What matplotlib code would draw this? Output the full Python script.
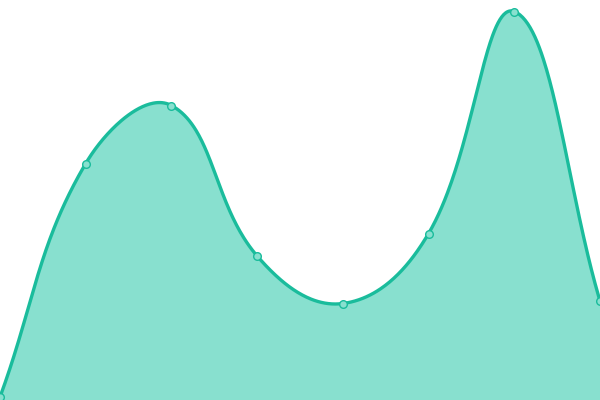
import numpy as np
import matplotlib
matplotlib.use("Agg")
import matplotlib.pyplot as plt

# data (index positions and values; chart height 400 units)
x_vals = [0, 1, 2, 3, 4, 5, 6, 7]
y_vals = [3, 236.5, 294.5, 144, 96.5, 166.5, 388.5, 99]

line_color = "#1abc9c"
fill_color = "#88e0cf"


def spline_curve(P, tension=0.4, n=80, lo=None, hi=None):
    # tension-based spline (distance-weighted control points) in display space
    P = np.asarray(P, float)
    m = len(P)
    cin, cout = [], []
    for i in range(m):
        prev = P[i - 1] if i > 0 else P[i]
        nxt = P[i + 1] if i < m - 1 else P[i]
        cur = P[i]
        d01 = np.linalg.norm(cur - prev)
        d12 = np.linalg.norm(nxt - cur)
        tot = d01 + d12
        s01 = d01 / tot if tot > 0 else 0
        s12 = d12 / tot if tot > 0 else 0
        a = cur - tension * s01 * (nxt - prev)
        b = cur + tension * s12 * (nxt - prev)
        if lo is not None:
            a = np.clip(a, lo, hi)
            b = np.clip(b, lo, hi)
        cin.append(a)
        cout.append(b)
    out = [P[:1]]
    t = np.linspace(0, 1, n)[1:, None]
    for i in range(m - 1):
        p1, p2 = P[i], P[i + 1]
        c1, c2 = cout[i], cin[i + 1]
        seg = ((1 - t) ** 3) * p1 + 3 * ((1 - t) ** 2) * t * c1 + 3 * (1 - t) * t ** 2 * c2 + t ** 3 * p2
        out.append(seg)
    return np.vstack(out)


fig = plt.figure(figsize=(6, 4), dpi=100)
ax = fig.add_axes([0, 0, 1, 1])
ax.set_xlim(0, 7)
ax.set_ylim(0, 400)
ax.axis("off")

disp = ax.transData.transform(np.column_stack([x_vals, y_vals]))
lo = ax.transData.transform((0, 0))
hi = ax.transData.transform((7, 400))
curve = ax.transData.inverted().transform(spline_curve(disp, lo=lo, hi=hi))
sx, sy = curve[:, 0], curve[:, 1]

ax.fill_between(sx, 0, sy, color=fill_color, linewidth=0)
ax.plot(sx, sy, color=line_color, linewidth=2.4, solid_capstyle="round")
ax.plot(x_vals, y_vals, linestyle="none", marker="o", markersize=5.5,
        markerfacecolor=fill_color, markeredgecolor=line_color, markeredgewidth=1.0)
fig.savefig("out.png", dpi=100)
